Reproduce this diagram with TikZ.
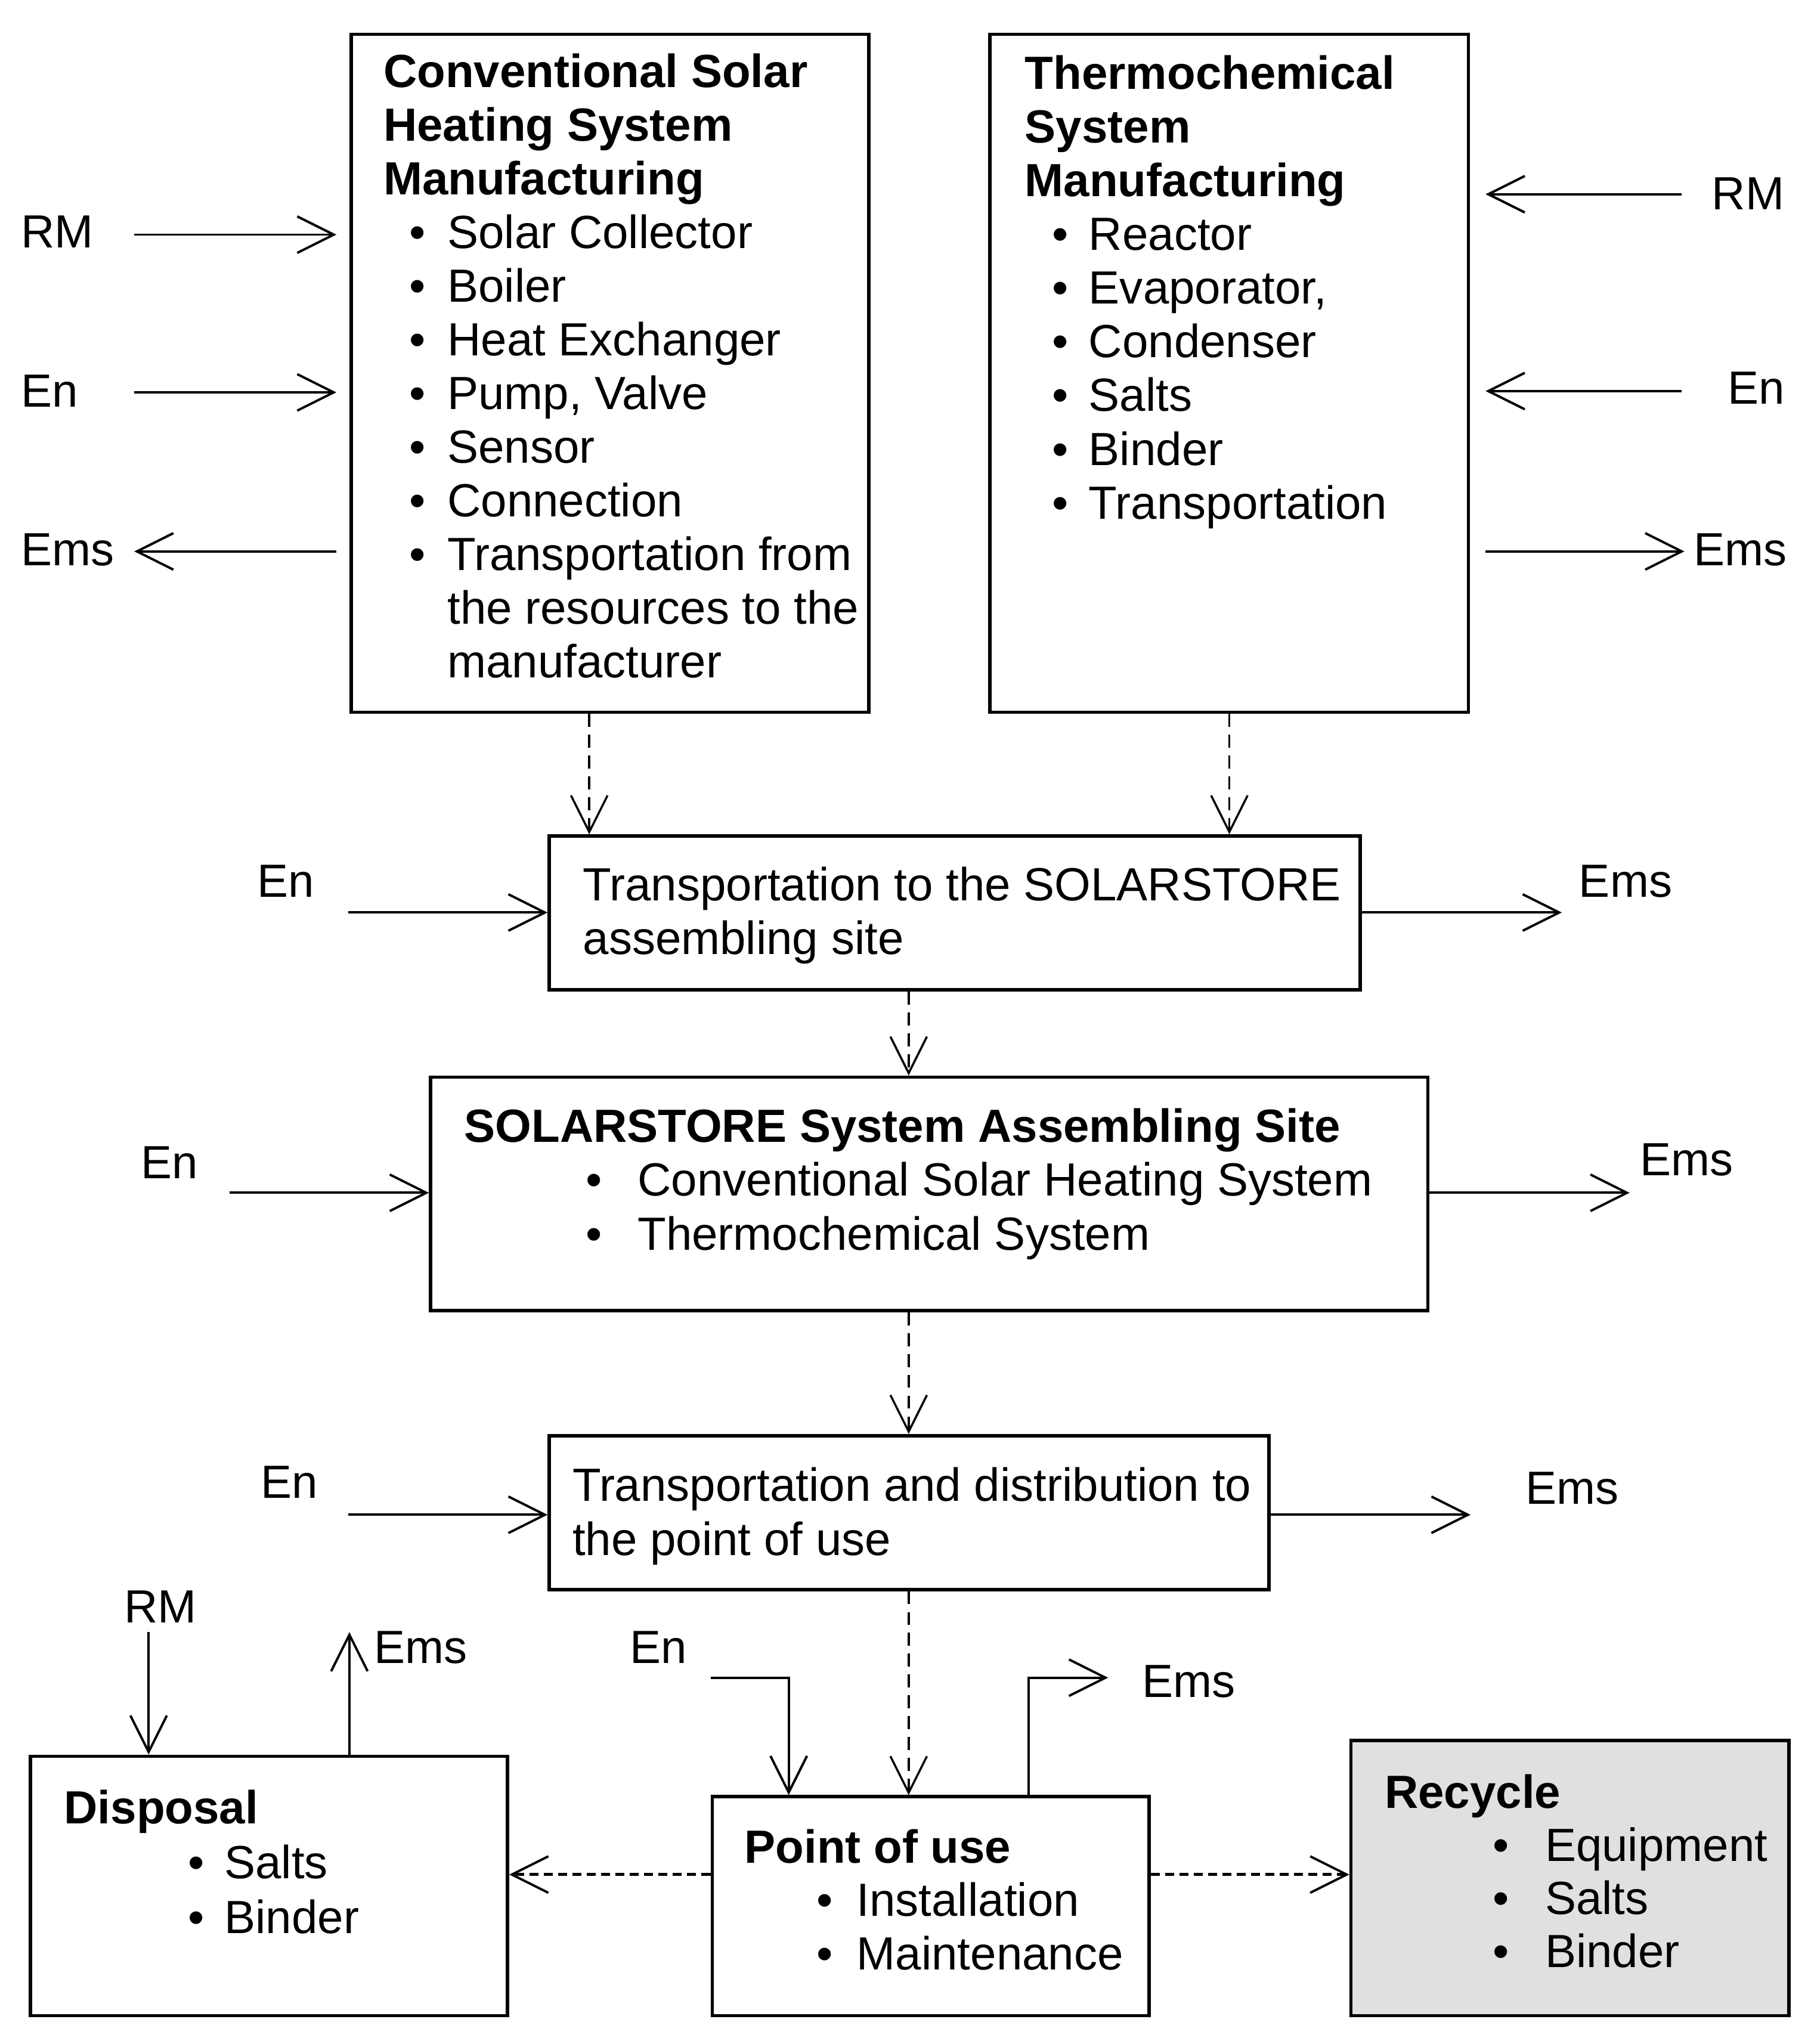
\documentclass[tikz,border=0pt]{standalone}
\usepackage{fontspec}
\setmainfont{Liberation Sans}
\usetikzlibrary{arrows.meta,calc}
\newcommand{\bl}[3]{\hspace*{#1}\makebox[#2][l]{\textbullet}#3}
\definecolor{recgray}{RGB}{224,224,224}
\begin{document}
\begin{tikzpicture}[x=1pt,y=-1pt,
  box/.style={draw, line width=2.6pt, inner sep=0pt, anchor=north west},
  txt/.style={inner sep=0pt, anchor=base west, align=left},
  lbl/.style={inner sep=0pt, anchor=base west, font=\fontsize{35.7}{41}\selectfont},
  arr/.style={line width=1.8pt, -{Straight Barb[length=28pt,width=28pt,line width=1.8pt]}},
  darr/.style={line width=1.6pt, dash pattern=on 10pt off 6pt, -{Straight Barb[length=28pt,width=28pt,line width=1.6pt]}},
  sarr/.style={line width=2.4pt, dash pattern=on 7pt off 4pt, -{Straight Barb[length=28pt,width=28pt,line width=1.8pt]}}]
\useasboundingbox (0,0) rectangle (1389,1568);
% boxes
\node[box, minimum width=397pt, minimum height=520pt] (A) at (268,25) {};
\node[box, minimum width=367pt, minimum height=520pt] (B) at (758,25) {};
\node[box, minimum width=622pt, minimum height=118pt] (C) at (420,640) {};
\node[box, minimum width=765pt, minimum height=179pt] (D) at (329,825) {};
\node[box, minimum width=552pt, minimum height=118pt] (E) at (420,1100) {};
\node[box, minimum width=335pt, minimum height=168pt] (F) at (545,1377) {};
\node[box, minimum width=366pt, minimum height=199pt] (G) at (22,1346) {};
\node[box, fill=recgray, minimum width=336pt, minimum height=211pt] (H) at (1035,1334) {};
% texts (anchor = baseline of the last line)
\node[txt, font=\fontsize{35.7}{41.2}\selectfont] (tA) at (294,520) {\textbf{Conventional Solar}\\\textbf{Heating System}\\\textbf{Manufacturing}\\
\bl{20pt}{29pt}{Solar Collector}\\\bl{20pt}{29pt}{Boiler}\\\bl{20pt}{29pt}{Heat Exchanger}\\\bl{20pt}{29pt}{Pump, Valve}\\\bl{20pt}{29pt}{Sensor}\\\bl{20pt}{29pt}{Connection}\\\bl{20pt}{29pt}{Transportation from}\\\hspace*{49pt}the resources to the\\\hspace*{49pt}manufacturer};
\node[txt, font=\fontsize{35.7}{41.2}\selectfont] (tB) at (786,398) {\textbf{Thermochemical}\\\textbf{System}\\\textbf{Manufacturing}\\
\bl{21pt}{28pt}{Reactor}\\\bl{21pt}{28pt}{Evaporator,}\\\bl{21pt}{28pt}{Condenser}\\\bl{21pt}{28pt}{Salts}\\\bl{21pt}{28pt}{Binder}\\\bl{21pt}{28pt}{Transportation}};
\node[txt, font=\fontsize{35.7}{41}\selectfont] (tC) at (447,732) {Transportation to the SOLARSTORE\\assembling site};
\node[txt, font=\fontsize{35.7}{41.5}\selectfont] (tD) at (356,959) {\textbf{SOLARSTORE System Assembling Site}\\\bl{93pt}{40pt}{Conventional Solar Heating System}\\\bl{93pt}{40pt}{Thermochemical System}};
\node[txt, font=\fontsize{35.7}{41.5}\selectfont] (tE) at (439,1193) {Transportation and distribution to\\the point of use};
\node[txt, font=\fontsize{35.7}{41}\selectfont] (tF) at (571,1511) {\textbf{Point of use}\\\bl{55pt}{31pt}{Installation}\\\bl{55pt}{31pt}{Maintenance}};
\node[txt, font=\fontsize{35.7}{42}\selectfont] (tG) at (49,1483) {\textbf{Disposal}\\\bl{95pt}{28pt}{Salts}\\\bl{95pt}{28pt}{Binder}};
\node[txt, font=\fontsize{35.7}{40.7}\selectfont] (tH) at (1062,1509) {\textbf{Recycle}\\\bl{83pt}{40pt}{Equipment}\\\bl{83pt}{40pt}{Salts}\\\bl{83pt}{40pt}{Binder}};
% labels
\node[lbl] (lRMa) at (16,190) {RM};
\node[lbl] (lEna) at (16,312) {En};
\node[lbl] (lEmsa) at (16,434) {Ems};
\node[lbl] (lRMb) at (1313,161) {RM};
\node[lbl] (lEnb) at (1325,310) {En};
\node[lbl] (lEmsb) at (1299,434) {Ems};
\node[lbl] (lEnc) at (197,688) {En};
\node[lbl] (lEmsc) at (1211,688) {Ems};
\node[lbl] (lEnd) at (108,904) {En};
\node[lbl] (lEmsd) at (1258,902) {Ems};
\node[lbl] (lEne) at (200,1149) {En};
\node[lbl] (lEmse) at (1170,1154) {Ems};
\node[lbl] (lRMg) at (95,1245) {RM};
\node[lbl] (lEmsg) at (287,1276) {Ems};
\node[lbl] (lEnf) at (483,1276) {En};
\node[lbl] (lEmsf) at (876,1302) {Ems};
% coordinates
\coordinate (rmA) at (103,180);
\coordinate (enA) at (103,301);
\coordinate (emsA) at (103,423);
\coordinate (rmB) at (1290,149);
\coordinate (enB) at (1290,300);
\coordinate (emsB) at (1292,423);
\coordinate (enC) at (267,700);
\coordinate (emsC) at (1198,700);
\coordinate (enD) at (176,915);
\coordinate (emsD) at (1250,915);
\coordinate (enE) at (267,1162);
\coordinate (emsE) at (1128,1162);
\coordinate (xA) at (452,0);
\coordinate (xB) at (943,0);
\coordinate (xM) at (697,0);
\coordinate (enF) at (545,1287);
\coordinate (xEnF) at (605,0);
\coordinate (xEmsF) at (789,0);
\coordinate (emsF) at (850,1287);
\coordinate (rmG) at (114,1252);
\coordinate (emsG) at (268,1252);
\coordinate (yS) at (0,1438);
% solid arrows
\draw[arr, shorten >=10pt] (rmA) -- (rmA -| A.west);
\draw[arr, shorten >=10pt] (enA) -- (enA -| A.west);
\draw[arr, shorten <=10pt] (emsA -| A.west) -- (emsA);
\draw[arr, shorten >=12pt] (rmB) -- (rmB -| B.east);
\draw[arr, shorten >=12pt] (enB) -- (enB -| B.east);
\draw[arr, shorten <=12pt] (emsB -| B.east) -- (emsB);
\draw[arr] (enC) -- (enC -| C.west);
\draw[arr] (emsC -| C.east) -- (emsC);
\draw[arr] (enD) -- (enD -| D.west);
\draw[arr] (emsD -| D.east) -- (emsD);
\draw[arr] (enE) -- (enE -| E.west);
\draw[arr] (emsE -| E.east) -- (emsE);
\draw[arr] (enF) -| (F.north -| xEnF);
\draw[arr] (F.north -| xEmsF) |- (emsF);
\draw[arr] (rmG) -- (rmG |- G.north);
\draw[arr] (emsG |- G.north) -- (emsG);
% dashed arrows
\draw[darr] (A.south -| xA) -- (C.north -| xA);
\draw[darr] (B.south -| xB) -- (C.north -| xB);
\draw[darr] (C.south -| xM) -- (D.north -| xM);
\draw[darr] (D.south -| xM) -- (E.north -| xM);
\draw[darr] (E.south -| xM) -- (F.north -| xM);
\draw[sarr] (F.west |- yS) -- (G.east |- yS);
\draw[sarr] (F.east |- yS) -- (H.west |- yS);
\end{tikzpicture}
\end{document}
